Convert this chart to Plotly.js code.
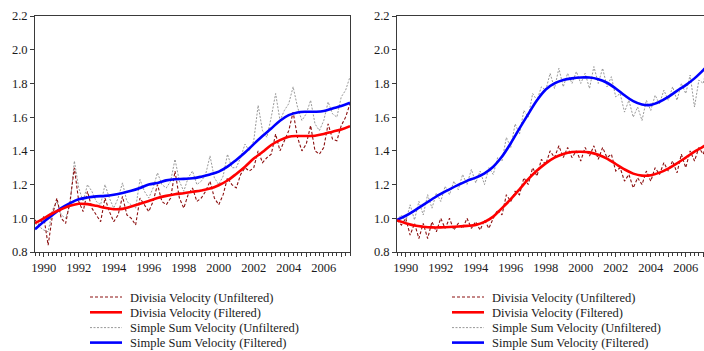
<!DOCTYPE html>
<html>
<head>
<meta charset="utf-8">
<script src="https://cdn.plot.ly/plotly-3.0.1.min.js"></script>
<style>
  html, body { margin: 0; padding: 0; background: #fff; overflow: hidden; }
  #chart { width: 716px; height: 351px; }
</style>
</head>
<body>
<div id="chart"></div>
<script>
// Quarterly observations from 1989Q3 to 2007Q3, filtered trend every half year.
const quarterStart = 1989.5, quarterCount = 73;
const quarters = Array.from({length: quarterCount}, (_, i) => quarterStart + i * 0.25);
const halfYears = Array.from({length: 37}, (_, i) => 1989.5 + i * 0.5);

const seriesNames = [
  'Divisia Velocity (Unfiltered)',
  'Divisia Velocity (Filtered)',
  'Simple Sum Velocity (Unfiltered)',
  'Simple Sum Velocity (Filtered)'
];

// Left panel
const leftDivisiaRaw = [
  0.99, 0.96,
  1.01, 0.84, 1.02, 1.12,
  1.00, 0.97, 1.10, 1.30,
  1.10, 1.04, 1.16, 1.06,
  1.02, 0.98, 1.12, 1.04,
  0.98, 1.02, 1.13, 1.02,
  1.00, 0.96, 1.12, 1.08,
  1.04, 1.10, 1.20, 1.10,
  1.08, 1.12, 1.28, 1.12,
  1.06, 1.14, 1.18, 1.10,
  1.12, 1.16, 1.22, 1.12,
  1.08, 1.14, 1.24, 1.20,
  1.18, 1.26, 1.30, 1.28,
  1.30, 1.40, 1.33, 1.36,
  1.38, 1.50, 1.40, 1.46,
  1.52, 1.63, 1.48, 1.40,
  1.44, 1.55, 1.40, 1.38,
  1.42, 1.56, 1.47, 1.46,
  1.55, 1.60, 1.68
];
const leftDivisiaTrend = [
  0.971, 1.000, 1.030, 1.054, 1.074, 1.086, 1.084, 1.074, 1.062, 1.054,
  1.056, 1.070, 1.086, 1.103, 1.120, 1.133, 1.143, 1.149, 1.157, 1.165,
  1.176, 1.196, 1.224, 1.263, 1.306, 1.354, 1.393, 1.435, 1.464, 1.484,
  1.488, 1.488, 1.490, 1.500, 1.514, 1.527, 1.547
];
const leftSumRaw = [
  0.97, 0.95,
  0.93, 0.92, 1.05, 1.10,
  1.02, 1.00, 1.08, 1.34,
  1.18, 1.10, 1.20, 1.16,
  1.10, 1.08, 1.20, 1.12,
  1.06, 1.12, 1.21, 1.10,
  1.08, 1.06, 1.23, 1.16,
  1.12, 1.18, 1.27, 1.20,
  1.18, 1.22, 1.35, 1.22,
  1.16, 1.24, 1.28, 1.20,
  1.22, 1.26, 1.37, 1.24,
  1.20, 1.25, 1.38, 1.30,
  1.30, 1.36, 1.44, 1.40,
  1.46, 1.67, 1.52, 1.48,
  1.60, 1.74, 1.58, 1.64,
  1.68, 1.78, 1.66, 1.58,
  1.62, 1.70, 1.56, 1.52,
  1.58, 1.69, 1.62, 1.60,
  1.72, 1.76, 1.84
];
const leftSumTrend = [
  0.935, 0.980, 1.020, 1.060, 1.090, 1.113, 1.123, 1.130, 1.133, 1.140,
  1.150, 1.163, 1.180, 1.200, 1.210, 1.225, 1.232, 1.234, 1.237, 1.247,
  1.260, 1.277, 1.306, 1.346, 1.390, 1.440, 1.488, 1.533, 1.579, 1.612,
  1.628, 1.632, 1.632, 1.636, 1.652, 1.666, 1.685
];

// Right panel
const rightDivisiaRaw = [
  0.99, 0.96,
  1.00, 0.90, 0.97, 0.88,
  0.97, 0.88, 0.98, 0.92,
  1.00, 0.94, 1.00, 0.93,
  0.97, 0.94, 1.00, 0.94,
  0.98, 0.93, 0.99, 0.94,
  1.00, 1.05, 1.02, 1.14,
  1.10, 1.16, 1.14, 1.24,
  1.20, 1.30, 1.25, 1.35,
  1.32, 1.40, 1.36, 1.43,
  1.36, 1.42, 1.36, 1.40,
  1.34, 1.42, 1.37, 1.43,
  1.35, 1.42, 1.36, 1.38,
  1.28, 1.30, 1.22, 1.26,
  1.18, 1.24, 1.20, 1.28,
  1.22, 1.30, 1.26, 1.33,
  1.28, 1.34, 1.27, 1.38,
  1.30, 1.40, 1.34, 1.42,
  1.38, 1.46, 1.45
];
const rightDivisiaTrend = [
  0.987, 0.971, 0.957, 0.950, 0.946, 0.946, 0.948, 0.951, 0.955, 0.961,
  0.979, 1.010, 1.060, 1.113, 1.172, 1.232, 1.283, 1.326, 1.360, 1.381,
  1.393, 1.395, 1.391, 1.377, 1.354, 1.322, 1.290, 1.265, 1.253, 1.255,
  1.271, 1.295, 1.326, 1.360, 1.395, 1.425, 1.464
];
const rightSumRaw = [
  0.99, 1.02,
  0.98, 1.08, 0.99, 1.10,
  1.02, 1.14, 1.06, 1.15,
  1.10, 1.19, 1.14, 1.22,
  1.17, 1.26, 1.20, 1.29,
  1.21, 1.28, 1.20, 1.30,
  1.26, 1.36, 1.34, 1.48,
  1.42, 1.56, 1.50, 1.64,
  1.60, 1.74, 1.70, 1.78,
  1.76, 1.86, 1.77, 1.89,
  1.78, 1.86, 1.80, 1.87,
  1.80, 1.86, 1.77, 1.90,
  1.80, 1.89, 1.78, 1.84,
  1.72, 1.74, 1.63, 1.70,
  1.60, 1.66, 1.58, 1.70,
  1.64, 1.73, 1.68, 1.76,
  1.70, 1.78, 1.70, 1.80,
  1.74, 1.85, 1.66, 1.82,
  1.80, 1.92, 1.90
];
const rightSumTrend = [
  0.991, 1.015, 1.046, 1.080, 1.113, 1.145, 1.172, 1.198, 1.222, 1.241,
  1.267, 1.306, 1.366, 1.445, 1.533, 1.618, 1.700, 1.764, 1.800, 1.820,
  1.830, 1.835, 1.835, 1.825, 1.804, 1.770, 1.730, 1.695, 1.675, 1.673,
  1.691, 1.720, 1.756, 1.790, 1.830, 1.879, 1.930
];

const yTicks = [0.8, 1.0, 1.2, 1.4, 1.6, 1.8, 2.0, 2.2];
const yearTicks = Array.from({length: 18}, (_, i) => 1990 + i);
const yearLabels = yearTicks.map(y => (y % 2 === 0 ? String(y) : ''));

// Line styles, in legend order
const styles = [
  {color: '#8b1010', width: 1.1, dash: '3px,2px'},
  {color: '#ff0000', width: 2.6, dash: 'solid'},
  {color: '#8c8c8c', width: 0.9, dash: '2px,1.5px'},
  {color: '#0000ff', width: 2.6, dash: 'solid'}
];

const W = 716, H = 351;
const px = v => v / W, py = v => 1 - v / H;
const serif = 'Liberation Serif';

function panelTraces(xa, ya, dRaw, dTrend, sRaw, sTrend) {
  const mk = (k, x, y, spline) => ({
    type: 'scatter', mode: 'lines', x: x, y: y, xaxis: xa, yaxis: ya,
    name: seriesNames[k], showlegend: false, hoverinfo: 'skip',
    line: Object.assign({}, styles[k], spline ? {shape: 'spline', smoothing: 1} : {})
  });
  return [
    mk(2, quarters, sRaw, false),
    mk(0, quarters, dRaw, false),
    mk(3, halfYears, sTrend, true),
    mk(1, halfYears, dTrend, true)
  ];
}

const data = [].concat(
  panelTraces('x', 'y', leftDivisiaRaw, leftDivisiaTrend, leftSumRaw, leftSumTrend),
  panelTraces('x2', 'y2', rightDivisiaRaw, rightDivisiaTrend, rightSumRaw, rightSumTrend)
);

const axisColor = '#3a3a3a';
function xAxis(domain, anchor) {
  return {
    domain: domain, anchor: anchor, range: [1989.5, 2007.5],
    tickmode: 'array', tickvals: yearTicks, ticktext: yearLabels,
    ticks: 'outside', ticklen: 4, tickwidth: 1, tickcolor: axisColor,
    minor: {tickmode: 'linear', tick0: 1990, dtick: 0.25, ticks: 'outside', ticklen: 2.5, tickcolor: axisColor, showgrid: false},
    showline: true, mirror: true, linecolor: axisColor, linewidth: 1,
    showgrid: false, zeroline: false,
    tickfont: {family: serif, size: 12.5, color: '#1a1a1a'}
  };
}
function yAxis(domain, anchor) {
  return {
    domain: domain, anchor: anchor, range: [0.8, 2.2],
    tickmode: 'array', tickvals: yTicks, ticktext: yTicks.map(v => v.toFixed(1)),
    ticks: 'outside', ticklen: 4, tickwidth: 1, tickcolor: axisColor,
    showline: true, mirror: true, linecolor: axisColor, linewidth: 1,
    showgrid: false, zeroline: false,
    tickfont: {family: serif, size: 12.5, color: '#1a1a1a'}
  };
}

const yDomain = [py(252), py(16)];

// Legend keys drawn under each panel
const shapes = [], annotations = [];
const legendRows = [297, 312.3, 327.6, 342.6];
[[90, 122, 128], [452, 484, 490]].forEach(([x0, x1, tx]) => {
  seriesNames.forEach((name, k) => {
    const yy = py(legendRows[k]);
    shapes.push({type: 'line', xref: 'paper', yref: 'paper', x0: px(x0), x1: px(x1), y0: yy, y1: yy,
      line: {color: styles[k].color, width: styles[k].width, dash: styles[k].dash}});
    annotations.push({xref: 'paper', yref: 'paper', x: px(tx), y: py(legendRows[k] + 0.5),
      xanchor: 'left', yanchor: 'middle', showarrow: false, text: name,
      font: {family: serif, size: 12.5, color: '#1a1a1a'}});
  });
});

const layout = {
  width: W, height: H,
  margin: {l: 0, r: 0, t: 0, b: 0},
  paper_bgcolor: '#fff', plot_bgcolor: '#fff',
  showlegend: false,
  font: {family: serif},
  xaxis: xAxis([px(35), px(350)], 'y'),
  yaxis: yAxis(yDomain, 'x'),
  xaxis2: xAxis([px(397), px(712)], 'y2'),
  yaxis2: yAxis(yDomain, 'x2'),
  shapes: shapes,
  annotations: annotations
};

Plotly.newPlot('chart', data, layout, {staticPlot: true, displayModeBar: false});
</script>
</body>
</html>
